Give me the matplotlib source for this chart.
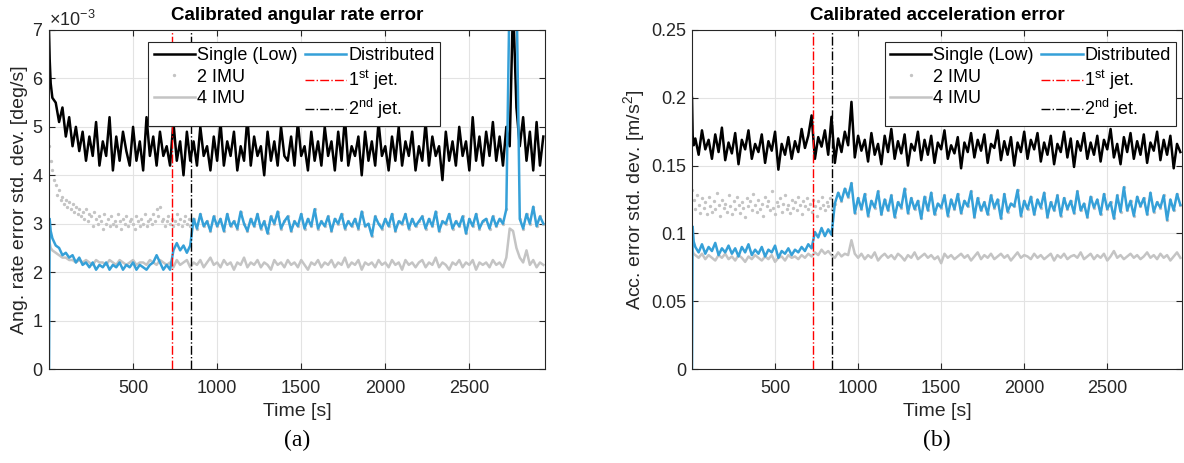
import numpy as np
import matplotlib.pyplot as plt
from matplotlib.ticker import ScalarFormatter

plt.rcParams['font.family'] = ['Liberation Sans', 'DejaVu Sans']
plt.rcParams['mathtext.default'] = 'regular'

# time grid: a few early samples, then every 20 s
t = np.concatenate([[0, 4, 10], np.arange(20, 2941, 20)])
# finer grid for the 2 IMU scatter before the 2nd jet
t2 = np.arange(0, 851, 10)
jet_times = [730, 845]

# ---- (a) angular rate error, units of 1e-3 deg/s
gyro_single = [7.0, 6.4, 5.9,
               5.6, 5.5, 5.1, 5.4, 4.8, 5.2, 4.6, 5.0, 4.5, 4.9,
               4.3, 4.8, 4.4, 5.1, 4.2, 4.7, 4.4, 5.2, 4.1, 4.8,
               4.3, 4.9, 4.5, 4.2, 5.0, 4.3, 4.7, 4.1, 5.2, 4.4,
               4.8, 4.2, 4.9, 4.4, 4.6, 4.2, 5.1, 4.3, 4.7, 4.0,
               4.9, 4.3, 4.7, 4.2, 5.0, 4.4, 4.6, 4.1, 4.8, 4.3,
               5.1, 4.2, 4.7, 4.4, 4.9, 4.1, 4.6, 4.3, 5.2, 4.2,
               4.8, 4.4, 4.6, 4.0, 4.9, 4.3, 4.7, 4.2, 5.0, 4.4,
               4.3, 4.8, 4.2, 5.1, 4.4, 4.6, 4.1, 4.9, 4.3, 4.7,
               4.2, 5.0, 4.4, 4.7, 4.1, 4.9, 4.3, 5.2, 4.2, 4.6,
               4.4, 4.8, 4.0, 4.9, 4.3, 4.7, 4.2, 5.1, 4.4, 4.6,
               4.1, 4.8, 4.3, 5.0, 4.2, 4.7, 4.4, 4.9, 4.1, 4.6,
               4.3, 5.1, 4.2, 4.8, 4.4, 4.6, 3.9, 4.9, 4.3, 4.7,
               4.2, 5.0, 4.4, 4.7, 4.1, 5.2, 4.3, 4.8, 4.2, 4.9,
               4.4, 5.1, 4.3, 4.8, 4.2, 5.0, 4.6, 7.6, 5.4, 4.6,
               5.2, 4.3, 4.9, 4.1, 5.1, 4.2, 4.8]
gyro_dist = [0.0, 3.1, 2.85,
             2.7, 2.55, 2.5, 2.35, 2.4, 2.3, 2.35, 2.2, 2.3, 2.15,
             2.2, 2.1, 2.2, 2.05, 2.15, 2.1, 2.2, 2.05, 2.15, 2.1,
             2.2, 2.05, 2.15, 2.1, 2.2, 2.05, 2.15, 2.1, 2.05, 2.15,
             2.2, 2.35, 2.2, 2.05, 2.15, 2.05, 2.45, 2.6, 2.45, 2.55,
             2.4, 2.55, 3.1, 2.9, 3.2, 2.95, 3.05, 2.85, 3.15, 2.95,
             3.1, 2.85, 3.2, 2.95, 3.05, 2.9, 3.25, 3.0, 2.85, 3.1,
             2.95, 3.2, 2.9, 3.05, 2.8, 3.15, 3.0, 3.25, 2.9, 3.05,
             3.15, 2.85, 3.05, 2.95, 3.2, 2.9, 3.1, 2.95, 3.3, 2.9,
             3.05, 2.95, 3.15, 2.85, 3.1, 3.0, 3.2, 2.9, 3.05, 2.95,
             3.1, 2.9, 3.25, 2.95, 3.0, 2.75, 3.15, 3.0, 2.9, 3.1,
             2.95, 3.2, 2.85, 3.05, 3.0, 3.2, 2.9, 3.1, 2.95, 3.05,
             3.15, 2.9, 3.1, 2.95, 3.25, 2.85, 3.05, 3.0, 3.2, 2.9,
             3.05, 2.95, 3.15, 2.8, 3.1, 2.95, 3.2, 2.9, 3.05, 3.1,
             2.9, 3.15, 2.95, 3.1, 3.0, 3.3, 8.0, 8.0, 8.0, 3.1,
             2.9, 3.2, 3.0, 3.35, 2.95, 3.15, 3.0]
gyro_4imu = [2.7, 2.6, 2.5,
             2.45, 2.4, 2.35, 2.3, 2.3, 2.25, 2.25, 2.2, 2.25, 2.2,
             2.25, 2.2, 2.15, 2.25, 2.2, 2.2, 2.15, 2.25, 2.2, 2.15,
             2.25, 2.2, 2.15, 2.2, 2.25, 2.15, 2.2, 2.2, 2.15, 2.25,
             2.2, 2.15, 2.25, 2.2, 2.15, 2.2, 2.1, 2.25, 2.15, 2.2,
             2.25, 2.1, 2.2, 2.15, 2.25, 2.1, 2.2, 2.3, 2.15, 2.2,
             2.1, 2.25, 2.15, 2.2, 2.05, 2.2, 2.15, 2.3, 2.1, 2.2,
             2.15, 2.25, 2.1, 2.2, 2.15, 2.05, 2.25, 2.15, 2.2, 2.1,
             2.25, 2.15, 2.2, 2.1, 2.25, 2.15, 2.05, 2.2, 2.15, 2.25,
             2.1, 2.2, 2.15, 2.25, 2.1, 2.2, 2.15, 2.3, 2.1, 2.2,
             2.15, 2.25, 2.05, 2.2, 2.15, 2.2, 2.1, 2.25, 2.15, 2.2,
             2.1, 2.25, 2.15, 2.2, 2.05, 2.25, 2.15, 2.2, 2.1, 2.2,
             2.25, 2.1, 2.2, 2.15, 2.3, 2.1, 2.2, 2.15, 2.05, 2.2,
             2.15, 2.25, 2.1, 2.2, 2.15, 2.25, 2.05, 2.2, 2.15, 2.2,
             2.1, 2.25, 2.15, 2.2, 2.1, 2.3, 2.9, 2.85, 2.5, 2.3,
             2.2, 2.45, 2.15, 2.25, 2.1, 2.2, 2.15]
gyro_2imu = [4.6, 4.3, 4.1, 3.9, 3.8, 3.6, 3.7, 3.5, 3.55, 3.4,
             3.5, 3.35, 3.45, 3.3, 3.4, 3.25, 3.35, 3.2, 3.3, 3.15,
             3.25, 3.1, 3.3, 3.05, 3.2, 3.15, 2.95, 3.25, 3.1, 3.0,
             3.15, 3.05, 2.9, 3.2, 3.0, 3.1, 2.95, 3.15, 3.0, 3.05,
             2.95, 3.2, 3.05, 2.9, 3.1, 3.0, 3.15, 2.95, 3.05, 3.1,
             3.0, 2.9, 3.15, 3.05, 2.95, 3.1, 3.0, 3.2, 2.95, 3.05,
             3.1, 3.0, 3.2, 3.05, 3.3, 3.15, 3.35, 3.05, 3.1, 2.95,
             3.05, 3.15, 3.0, 3.1, 2.95, 3.05, 3.2, 3.0, 3.1, 2.95,
             3.05, 3.15, 3.0, 3.1, 2.95, 3.05]

# ---- (b) acceleration error, m/s^2
acc_single = [0.2, 0.172, 0.165,
              0.17, 0.158, 0.176, 0.162, 0.169, 0.155, 0.173, 0.16, 0.178, 0.154,
              0.167, 0.159, 0.174, 0.151, 0.169, 0.162, 0.176, 0.155, 0.166, 0.16,
              0.173, 0.152, 0.168, 0.161, 0.175, 0.147, 0.166, 0.158, 0.171, 0.155,
              0.168, 0.16, 0.177, 0.163, 0.172, 0.187, 0.155, 0.171, 0.164, 0.176,
              0.158, 0.186, 0.152, 0.17, 0.16, 0.175, 0.165, 0.197, 0.156, 0.172,
              0.161, 0.169, 0.153, 0.174, 0.158, 0.166, 0.151, 0.172, 0.16, 0.177,
              0.155, 0.168, 0.159, 0.173, 0.15, 0.166, 0.161, 0.175, 0.154, 0.169,
              0.158, 0.172, 0.152, 0.167, 0.162, 0.176, 0.155, 0.165, 0.159, 0.171,
              0.148, 0.167, 0.16, 0.174, 0.156, 0.169, 0.161, 0.173, 0.152, 0.166,
              0.163, 0.176, 0.154, 0.168, 0.158, 0.171, 0.15, 0.167, 0.16, 0.175,
              0.155, 0.169, 0.162, 0.174, 0.153, 0.167, 0.158, 0.172, 0.151, 0.166,
              0.16, 0.175, 0.156, 0.17, 0.149, 0.168, 0.161, 0.174, 0.155, 0.167,
              0.158, 0.172, 0.153, 0.169, 0.162, 0.177, 0.156, 0.166, 0.151, 0.171,
              0.16, 0.174, 0.155, 0.168, 0.158, 0.173, 0.152, 0.167, 0.161, 0.175,
              0.154, 0.169, 0.158, 0.172, 0.148, 0.166, 0.16]
acc_dist = [0.0, 0.105, 0.094,
            0.09, 0.086, 0.092, 0.085, 0.09, 0.087, 0.093, 0.084, 0.089, 0.086,
            0.091, 0.085, 0.089, 0.083, 0.09, 0.086, 0.092, 0.084, 0.088, 0.085,
            0.09, 0.083, 0.088, 0.086, 0.091, 0.082, 0.087, 0.085, 0.089, 0.084,
            0.088, 0.086, 0.09, 0.087, 0.092, 0.089, 0.101, 0.097, 0.104, 0.098,
            0.103, 0.099, 0.122, 0.13, 0.124, 0.133, 0.127, 0.137, 0.115, 0.126,
            0.118, 0.129, 0.113, 0.124, 0.119, 0.131, 0.114, 0.125, 0.117, 0.128,
            0.112, 0.123, 0.119, 0.133, 0.115, 0.126, 0.118, 0.124, 0.111, 0.127,
            0.117, 0.13, 0.114, 0.122, 0.119, 0.128, 0.113, 0.125, 0.118, 0.129,
            0.115, 0.124, 0.12, 0.131, 0.112, 0.126, 0.117, 0.123, 0.114, 0.128,
            0.119, 0.125, 0.111, 0.129, 0.116, 0.122, 0.12, 0.132, 0.113, 0.124,
            0.118, 0.127, 0.114, 0.125, 0.119, 0.13, 0.112, 0.123, 0.117, 0.128,
            0.113, 0.126, 0.118, 0.124, 0.115, 0.131, 0.117, 0.122, 0.112, 0.127,
            0.119, 0.125, 0.114, 0.129, 0.118, 0.123, 0.111, 0.128, 0.116, 0.134,
            0.117, 0.124, 0.113, 0.127, 0.12, 0.126, 0.114, 0.13, 0.116, 0.123,
            0.119, 0.128, 0.11, 0.125, 0.117, 0.129, 0.121]
acc_4imu = [0.09, 0.087, 0.085,
            0.084, 0.082, 0.085, 0.081, 0.084, 0.082, 0.08, 0.084, 0.082, 0.085,
            0.081, 0.083, 0.08, 0.084, 0.082, 0.079, 0.083, 0.081, 0.084, 0.082,
            0.08, 0.083, 0.081, 0.084, 0.079, 0.082, 0.083, 0.08, 0.084, 0.082,
            0.083, 0.081, 0.084, 0.082, 0.085, 0.083, 0.086, 0.084, 0.088, 0.085,
            0.087, 0.084, 0.082, 0.086, 0.083, 0.085, 0.084, 0.095, 0.085, 0.082,
            0.085, 0.081, 0.084, 0.082, 0.086, 0.08, 0.083, 0.085, 0.082, 0.084,
            0.081, 0.085, 0.083, 0.08, 0.084, 0.082, 0.086, 0.081, 0.083, 0.085,
            0.082, 0.084, 0.081, 0.083, 0.078, 0.085, 0.082, 0.084, 0.081, 0.083,
            0.085, 0.082, 0.084, 0.08, 0.083, 0.086, 0.081, 0.084, 0.082, 0.085,
            0.081, 0.083, 0.085, 0.082, 0.084, 0.08, 0.083, 0.086, 0.082, 0.084,
            0.083, 0.081, 0.085, 0.082, 0.084, 0.081, 0.083, 0.085, 0.08, 0.084,
            0.082, 0.085, 0.081, 0.083, 0.084, 0.082, 0.086, 0.081, 0.083, 0.085,
            0.081, 0.084, 0.082, 0.085, 0.08, 0.083, 0.087, 0.082, 0.084, 0.081,
            0.083, 0.085, 0.082, 0.084, 0.081, 0.083, 0.086, 0.082, 0.084, 0.081,
            0.085, 0.082, 0.084, 0.08, 0.083, 0.086, 0.082]
acc_2imu = [0.132, 0.125, 0.118, 0.128, 0.121, 0.115, 0.126, 0.119, 0.123, 0.114,
            0.127, 0.12, 0.116, 0.124, 0.118, 0.13, 0.121, 0.113, 0.125, 0.119,
            0.122, 0.116, 0.128, 0.12, 0.114, 0.124, 0.118, 0.127, 0.121, 0.115,
            0.123, 0.119, 0.112, 0.126, 0.12, 0.124, 0.117, 0.129, 0.121, 0.116,
            0.125, 0.118, 0.122, 0.113, 0.127, 0.12, 0.124, 0.117, 0.131, 0.119,
            0.114, 0.123, 0.12, 0.126, 0.116, 0.122, 0.128, 0.118, 0.121, 0.115,
            0.125, 0.119, 0.123, 0.117, 0.127, 0.121, 0.114, 0.124, 0.12, 0.126,
            0.118, 0.122, 0.116, 0.125, 0.12, 0.113, 0.124, 0.119, 0.127, 0.121,
            0.117, 0.123, 0.12, 0.126, 0.118, 0.122]

BLUE = '#35a0d8'
GRAY = '#c4c4c4'
TXT = '#262626'

fig = plt.figure(figsize=(11.84, 4.63), dpi=100)
ax1 = fig.add_axes([49 / 1184, 1 - 369 / 463, 496 / 1184, 339 / 463])
ax2 = fig.add_axes([692 / 1184, 1 - 369 / 463, 490 / 1184, 339 / 463])


def draw(ax, single, two, four, dist, scale, ylim, yticks, title, ylabel):
    single = np.array(single) * scale
    dist = np.array(dist) * scale
    four = np.array(four) * scale
    # 2 IMU coincides with the distributed solution after the 2nd jet
    late = t > t2[-1]
    t_two = np.concatenate([t2, t[late]])
    v_two = np.concatenate([np.array(two) * scale, dist[late]])

    ax.plot(t, single, color='black', lw=1.8, label='Single (Low)')
    ax.plot(t_two, v_two, ls='none', marker='.', ms=2.8, color=GRAY, label='2 IMU')
    ax.plot(t, four, color=GRAY, lw=1.8, label='4 IMU')
    ax.plot(t, dist, color=BLUE, lw=1.8, label='Distributed')
    ax.axvline(jet_times[0], color='red', ls='-.', lw=1.0, label='1$^{st}$ jet.')
    ax.axvline(jet_times[1], color='black', ls='-.', lw=1.0, label='2$^{nd}$ jet.')

    ax.set_xlim(0, 2950)
    ax.set_ylim(*ylim)
    ax.set_xticks([500, 1000, 1500, 2000, 2500])
    ax.set_yticks(yticks)
    ax.grid(True, color='#e3e3e3', lw=0.8)
    ax.set_axisbelow(True)
    ax.tick_params(direction='in', top=True, right=True, length=4,
                   labelsize=13, colors=TXT)
    ax.tick_params(axis='x', pad=8)
    ax.tick_params(axis='y', pad=4)
    for s in ax.spines.values():
        s.set_color(TXT)
        s.set_linewidth(0.8)
    ax.set_title(title, fontsize=13.5, fontweight='bold', pad=7)
    ax.set_xlabel('Time [s]', fontsize=14, color=TXT, labelpad=4)
    ax.set_ylabel(ylabel, fontsize=14, color=TXT, labelpad=3)

    leg = ax.legend(ncol=2, loc='upper right', fontsize=13, frameon=True,
                    fancybox=False, framealpha=1, edgecolor=TXT,
                    handlelength=2.3, handletextpad=0.1, columnspacing=0.4,
                    labelspacing=0.25, borderpad=0.3, borderaxespad=0)
    leg.get_frame().set_linewidth(0.8)
    return leg


leg1 = draw(ax1, gyro_single, gyro_2imu, gyro_4imu, gyro_dist, 1e-3, (0, 0.007),
            np.arange(0, 0.0071, 0.001), 'Calibrated angular rate error',
            'Ang. rate error std. dev. [deg/s]')
leg1.set_bbox_to_anchor((0.788, 0.965), transform=ax1.transAxes)
fmt = ScalarFormatter(useMathText=True)
fmt.set_powerlimits((-2, 2))
ax1.yaxis.set_major_formatter(fmt)
ax1.yaxis.get_offset_text().set_fontsize(13)
ax1.yaxis.get_offset_text().set_color(TXT)

leg2 = draw(ax2, acc_single, acc_2imu, acc_4imu, acc_dist, 1.0, (0, 0.25),
            [0, 0.05, 0.1, 0.15, 0.2, 0.25], 'Calibrated acceleration error',
            'Acc. error std. dev. [m/s$^2$]')
leg2.set_bbox_to_anchor((0.988, 0.965), transform=ax2.transAxes)
ax2.set_yticklabels(['0', '0.05', '0.1', '0.15', '0.2', '0.25'])

fig.text(297 / 1184, 1 - 440 / 463, '(a)', family='Liberation Serif',
         fontsize=17, ha='center', va='center')
fig.text(937 / 1184, 1 - 440 / 463, '(b)', family='Liberation Serif',
         fontsize=17, ha='center', va='center')

fig.savefig('out.png', dpi=100)
